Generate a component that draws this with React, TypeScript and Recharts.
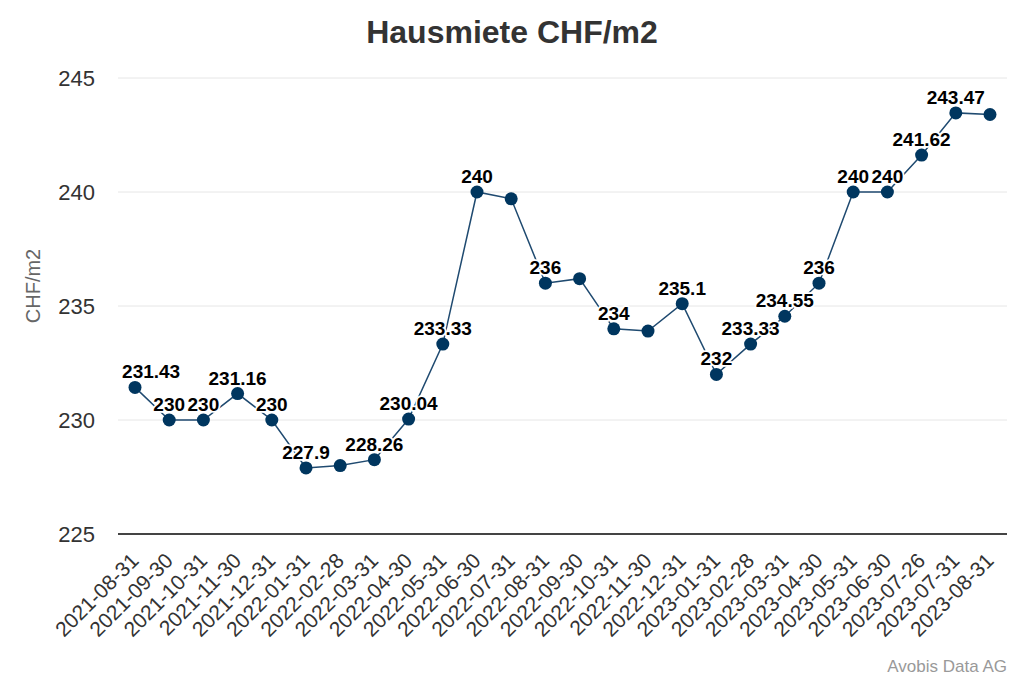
import React from "react";
import {
  LineChart,
  Line,
  XAxis,
  YAxis,
  CartesianGrid,
  LabelList,
} from "recharts";

const dates = [
  "2021-08-31", "2021-09-30", "2021-10-31", "2021-11-30", "2021-12-31",
  "2022-01-31", "2022-02-28", "2022-03-31", "2022-04-30", "2022-05-31",
  "2022-06-30", "2022-07-31", "2022-08-31", "2022-09-30", "2022-10-31",
  "2022-11-30", "2022-12-31", "2023-01-31", "2023-02-28", "2023-03-31",
  "2023-04-30", "2023-05-31", "2023-06-30", "2023-07-26", "2023-07-31",
  "2023-08-31",
];

const rent = [
  231.43, 230, 230, 231.16, 230,
  227.9, 228.0, 228.26, 230.04, 233.33,
  240, 239.7, 236, 236.2, 234,
  233.9, 235.1, 232, 233.33, 234.55,
  236, 240, 240, 241.62, 243.47,
  243.4,
];

// labels that the original hid because they overlapped their neighbours
const hiddenLabels = ["2022-02-28", "2022-07-31", "2022-09-30", "2022-11-30", "2023-08-31"];

const yTicks = [225, 230, 235, 240, 245];

const data = dates.map((d, i) => ({
  date: d,
  value: rent[i],
  label: hiddenLabels.includes(d) ? null : rent[i],
}));

const font = "'Liberation Sans', Arial, sans-serif";
const plotLeft = 110;

function PointLabel(props: any) {
  const { x, y, value } = props;
  if (value === null || value === undefined) return null;
  const s = String(value);
  // rough text width, to keep the label inside the plot like the original
  let w = 0;
  for (const ch of s) w += ch === "." ? 5.3 : 10.6;
  const cx = Math.max(x, plotLeft + 4 + w / 2);
  return (
    <text
      x={cx}
      y={y - 9}
      textAnchor="middle"
      fontFamily={font}
      fontSize={19}
      fontWeight="bold"
      fill="#000"
      stroke="#fff"
      strokeWidth={3.5}
      strokeLinejoin="round"
      paintOrder="stroke"
    >
      {s}
    </text>
  );
}

function XTick(props: any) {
  const { x, y, payload } = props;
  const ax = x + 5;
  const ay = y + 20;
  return (
    <text
      x={ax}
      y={ay}
      transform={`rotate(-45, ${ax}, ${ay})`}
      textAnchor="end"
      fontFamily={font}
      fontSize={21}
      fill="#333"
    >
      {payload.value}
    </text>
  );
}

function YTitle() {
  const cx = 25;
  const cy = 278;
  return (
    <text
      x={cx}
      y={cy}
      transform={`rotate(-90, ${cx}, ${cy})`}
      textAnchor="middle"
      dominantBaseline="central"
      fontFamily={font}
      fontSize={20}
      fill="#666"
    >
      CHF/m2
    </text>
  );
}

export default function App() {
  return (
    <div style={{ position: "relative", width: 1008, height: 667, fontFamily: font }}>
      <div
        style={{
          position: "absolute",
          top: 6,
          left: 0,
          width: 1008,
          textAlign: "center",
          fontSize: 32,
          fontWeight: "bold",
          color: "#333",
        }}
      >
        Hausmiete CHF/m2
      </div>
      <LineChart
        width={1008}
        height={667}
        data={data}
        margin={{ top: 70, right: 9, left: 0, bottom: 21 }}
      >
        <CartesianGrid vertical={false} stroke="#e6e6e6" />
        <XAxis
          dataKey="date"
          interval={0}
          padding={{ left: 17, right: 17 }}
          axisLine={{ stroke: "#444", strokeWidth: 2 }}
          tickLine={false}
          tick={<XTick />}
          height={120}
        />
        <YAxis
          domain={[225, 245]}
          ticks={yTicks}
          width={110}
          axisLine={false}
          tickLine={false}
          tickSize={0}
          tickMargin={23}
          tick={{ fill: "#333", fontSize: 22, fontFamily: font }}
          label={<YTitle />}
        />
        <Line
          type="linear"
          dataKey="value"
          stroke="#1f4a70"
          strokeWidth={1.5}
          dot={{ r: 6.5, fill: "#00365f", stroke: "#00365f", strokeWidth: 0 }}
          activeDot={false}
          isAnimationActive={false}
        >
          <LabelList dataKey="label" content={<PointLabel />} />
        </Line>
      </LineChart>
      <div
        style={{
          position: "absolute",
          right: 9,
          top: 649,
          fontSize: 17,
          color: "#999",
        }}
      >
        Avobis Data AG
      </div>
    </div>
  );
}
